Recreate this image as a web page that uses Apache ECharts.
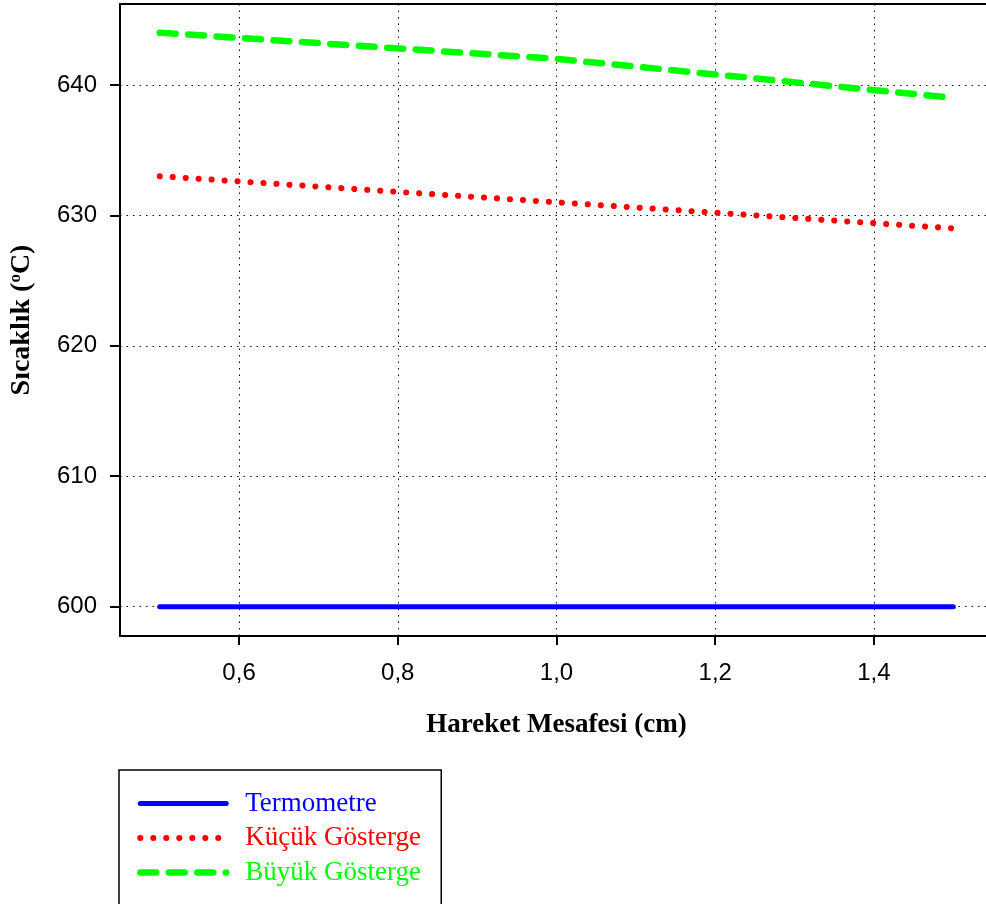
<!DOCTYPE html>
<html>
<head>
<meta charset="utf-8">
<script src="https://cdn.jsdelivr.net/npm/echarts@6/dist/echarts.min.js"></script>
<style>
  html, body { margin: 0; padding: 0; background: #fff; }
  #chart { width: 986px; height: 904px; }
</style>
</head>
<body>
<div id="chart"></div>
<script>
// data
const distance = [0.5, 1.0, 1.5];
const termometre = [600, 600, 600];
const kucukGosterge = [633, 631, 629];
const buyukGosterge = [644, 642, 639];
const xTicks = [0.6, 0.8, 1.0, 1.2, 1.4];
const yTicks = [600, 610, 620, 630, 640];
const seriesNames = ["Termometre", "Küçük Gösterge", "Büyük Gösterge"];

const pairs = (ys) => distance.map((x, i) => [x, ys[i]]);

const chart = echarts.init(document.getElementById("chart"));

const dotted = { color: "#000", width: 1, type: [1.5, 5] };
const sans = "Liberation Sans, Arial, sans-serif";
const serif = "Liberation Serif, Times New Roman, serif";

const blueLine = { color: "#0000ff", width: 5, cap: "round" };
const redLine = { color: "#ff0000", width: 6, type: [0.1, 12.9], cap: "round" };
const greenLine = { color: "#00ff00", width: 6.5, type: [16, 12.5], cap: "round" };

chart.setOption({
  animation: false,
  backgroundColor: "#fff",
  grid: {
    left: 120, top: 4, width: 873, height: 632,
    outerBoundsMode: "none",
    show: true, borderColor: "#000", borderWidth: 2,
  },
  xAxis: {
    type: "value",
    min: 0.45,
    max: 1.55,
    name: "Hareket Mesafesi (cm)",
    nameLocation: "middle",
    nameGap: 74,
    nameTextStyle: { fontFamily: serif, fontWeight: "bold", fontSize: 27, color: "#000", lineHeight: 30 },
    axisLine: { lineStyle: { color: "#000", width: 2 } },
    axisTick: { customValues: xTicks, length: 9, lineStyle: { color: "#000", width: 2 } },
    axisLabel: {
      customValues: xTicks,
      margin: 25,
      fontFamily: sans, fontSize: 24, color: "#000",
      formatter: (v) => v.toFixed(1).replace(".", ","),
    },
    splitLine: { show: true, lineStyle: dotted },
  },
  yAxis: {
    type: "value",
    min: 597.75,
    max: 646.2,
    name: "Sıcaklık ({sup|o}C)",
    nameLocation: "middle",
    nameRotate: 90,
    nameGap: 83,
    nameTextStyle: {
      fontFamily: serif, fontWeight: "bold", fontSize: 28, color: "#000", lineHeight: 30,
      rich: {
        sup: { fontFamily: serif, fontWeight: "bold", fontSize: 17, color: "#000", verticalAlign: "top", lineHeight: 30, padding: [0, 0, 12, 0] },
      },
    },
    axisLine: { lineStyle: { color: "#000", width: 2 } },
    axisTick: { customValues: yTicks, length: 10, lineStyle: { color: "#000", width: 2 } },
    axisLabel: {
      customValues: yTicks,
      margin: 23,
      fontFamily: sans, fontSize: 24, color: "#000",
    },
    splitLine: { show: true, lineStyle: dotted },
  },
  legend: {
    orient: "vertical",
    left: 119,
    top: 770,
    height: 200,
    padding: [20, 16, 60, 18],
    borderColor: "#000",
    borderWidth: 1.5,
    borderRadius: 0,
    itemWidth: 86,
    itemHeight: 14,
    itemGap: 7.5,
    textStyle: { fontFamily: serif, fontSize: 27, lineHeight: 27, width: 180, padding: [0, 0, 0, 14] },
    data: [
      { name: seriesNames[0], textStyle: { color: "#0000ff" }, lineStyle: blueLine, itemStyle: { opacity: 0 } },
      { name: seriesNames[1], textStyle: { color: "#ff0000" }, lineStyle: redLine, itemStyle: { opacity: 0 } },
      { name: seriesNames[2], textStyle: { color: "#00ff00" }, lineStyle: greenLine, itemStyle: { opacity: 0 } },
    ],
  },
  series: [
    { name: seriesNames[0], type: "line", data: pairs(termometre), symbol: "none", color: "#0000ff", lineStyle: blueLine },
    { name: seriesNames[1], type: "line", data: pairs(kucukGosterge), symbol: "none", color: "#ff0000", lineStyle: redLine },
    { name: seriesNames[2], type: "line", data: pairs(buyukGosterge), symbol: "none", color: "#00ff00", lineStyle: greenLine },
  ],
});
</script>
</body>
</html>
